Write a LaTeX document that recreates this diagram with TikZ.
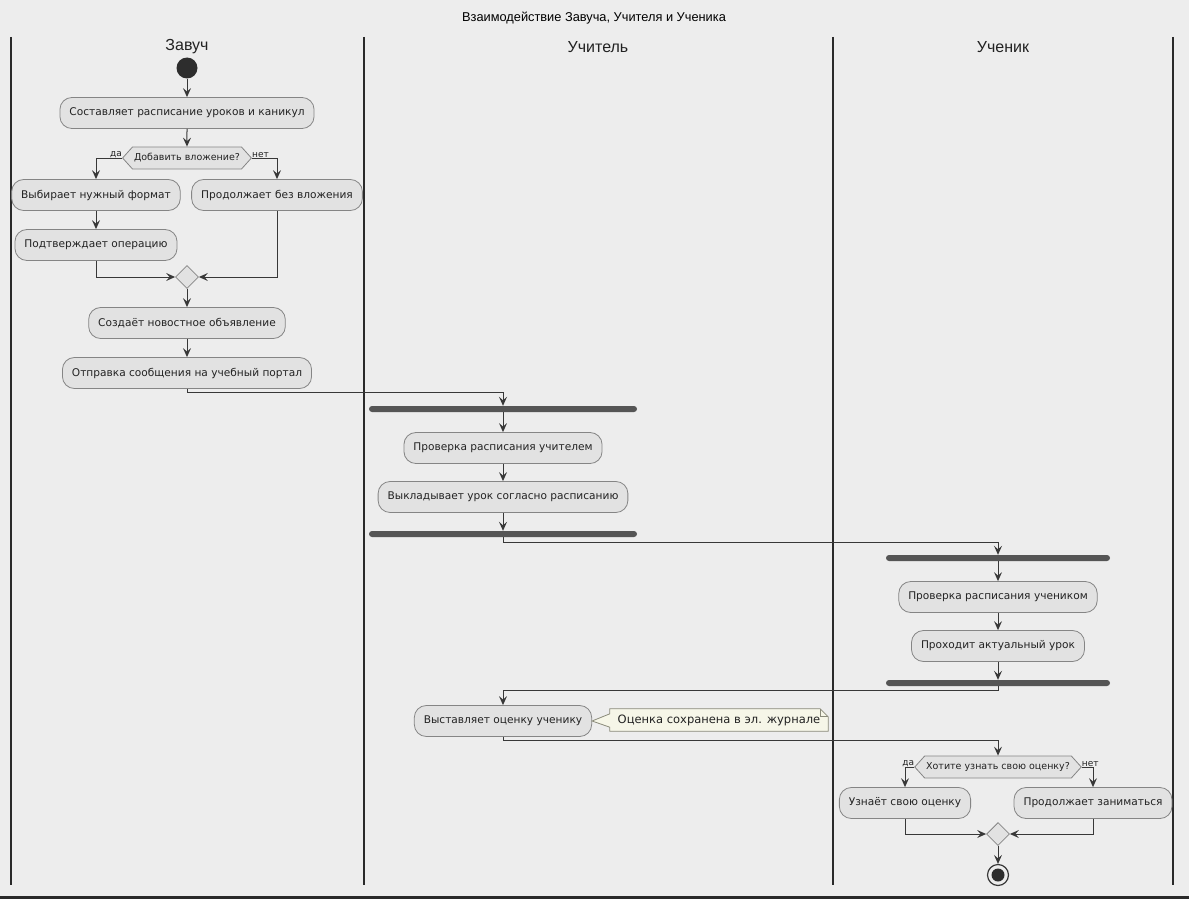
\documentclass[tikz,border=0pt]{standalone}
\usepackage{fontspec}
\newfontfamily\dv{DejaVu Sans}
\newfontfamily\ls{Liberation Sans}
\usetikzlibrary{arrows.meta,shapes.geometric,shapes.symbols,calc}
\definecolor{bg}{HTML}{EDEDED}
\definecolor{boxfill}{HTML}{E2E2E2}
\definecolor{boxline}{HTML}{858585}
\definecolor{edge}{HTML}{383838}
\definecolor{barc}{HTML}{555555}
\definecolor{lane}{HTML}{2A2A2A}
\definecolor{notefill}{HTML}{F6F6E8}
\definecolor{noteline}{HTML}{8A8A7A}
\definecolor{txt}{HTML}{222222}
\tikzset{
  act/.style={draw=boxline, fill=boxfill, rounded corners=12pt, minimum height=31pt, inner xsep=9.5pt, font=\dv\fontsize{10.6}{12}\selectfont, text=txt, line width=0.8pt},
  hexa/.style={shape=signal, signal to=west and east, signal pointer angle=96, draw=boxline, fill=boxfill, minimum height=22pt, inner xsep=1.5pt, inner ysep=1pt, font=\dv\fontsize{9.5}{11}\selectfont, text=txt, line width=0.8pt},
  merge/.style={shape=diamond, draw=boxline, fill=boxfill, minimum width=23pt, minimum height=23pt, inner sep=0pt, line width=0.8pt},
  bar/.style={fill=barc, rounded corners=3pt, minimum height=6pt, inner sep=0pt},
  arr/.style={-{Stealth[length=9pt,width=8pt,inset=3.5pt]}, line width=1pt, draw=edge},
  lbl/.style={font=\dv\fontsize{9}{10}\selectfont, text=txt, inner sep=0pt},
  hdr/.style={font=\ls\fontsize{16}{18}\selectfont, text=txt},
}
\begin{document}
\begin{tikzpicture}[x=1pt,y=-1pt]
\useasboundingbox (0,0) rectangle (1189,899);
\fill[bg] (0,0) rectangle (1189,899);
\fill[lane] (0,896) rectangle (1189,899);
% title
\node[font=\ls\fontsize{12.8}{14}\selectfont, text=black] (title) at (594,18) {Взаимодействие Завуча, Учителя и Ученика};
% lanes
\foreach \x/\n in {11/l0,364/l1,833/l2,1173/l3}{
  \coordinate (\n t) at (\x,37);
  \coordinate (\n b) at (\x,885);
  \draw[lane, line width=1.5pt] (\n t) -- (\n b);
}
\node[hdr] (h1) at (187,47) {Завуч};
\node[hdr] (h2) at (598,47) {Учитель};
\node[hdr] (h3) at (1003,47) {Ученик};

% Zavuch
\node[circle, fill=edge!80!black, minimum size=21pt, inner sep=0pt] (start) at (187,68) {};
\node[act] (a1) at (187,113) {Составляет расписание уроков и каникул};
\node[hexa] (d1) at (187,158) {Добавить вложение?};
\node[act] (a2) at (96,195) {Выбирает нужный формат};
\node[act] (a3) at (277,195) {Продолжает без вложения};
\node[act] (a4) at (96,245) {Подтверждает операцию};
\node[merge] (m1) at (187,277) {};
\node[act] (a5) at (187,323) {Создаёт новостное объявление};
\node[act] (a6) at (187,373) {Отправка сообщения на учебный портал};
\node[lbl, anchor=south east] (yes1) at (d1.west) {да};
\node[lbl, anchor=south west] (no1) at (d1.east) {нет};

% Teacher
\node[bar, minimum width=268pt] (f1) at (503,409) {};
\node[act] (b1) at (503,448) {Проверка расписания учителем};
\node[act] (b2) at (503,497) {Выкладывает урок согласно расписанию};
\node[bar, minimum width=268pt] (j1) at (503,534) {};
\node[act] (b3) at (503,721) {Выставляет оценку ученику};
\node[font=\dv\fontsize{11.5}{13}\selectfont, text=txt, minimum width=218pt, minimum height=22pt, inner sep=0pt] (n1) at (719,720) {Оценка сохранена в эл. журнале};

% Student
\node[bar, minimum width=224pt] (f2) at (998,558) {};
\node[act] (c1) at (998,597) {Проверка расписания учеником};
\node[act] (c2) at (998,646) {Проходит актуальный урок};
\node[bar, minimum width=224pt] (j2) at (998,683) {};
\node[hexa] (d2) at (998,767) {Хотите узнать свою оценку?};
\node[act] (c3) at (905,803) {Узнаёт свою оценку};
\node[act] (c4) at (1093,803) {Продолжает заниматься};
\node[merge] (m2) at (998,834) {};
\node[circle, draw=edge, line width=1.2pt, fill=bg, minimum size=21pt, inner sep=0pt] (end) at (998,875) {};
\node[circle, fill=edge!80!black, minimum size=13pt, inner sep=0pt] (endin) at (998,875) {};
\node[lbl, anchor=south east] (yes2) at (d2.west) {да};
\node[lbl, anchor=south west] (no2) at (d2.east) {нет};

% note shape
\draw[fill=notefill, draw=noteline, line width=0.8pt]
  (n1.north west) -- ($(n1.north east)+(-8,0)$) -- ($(n1.north east)+(0,8)$) -- (n1.south east) -- (n1.south west)
  -- ($(n1.south west)+(0,-4)$) -- (b3.east) -- ($(n1.north west)+(0,5)$) -- cycle;
\draw[draw=noteline, line width=0.8pt] ($(n1.north east)+(-8,0)$) -- ($(n1.north east)+(-8,8)$) -- ($(n1.north east)+(0,8)$);
\node[font=\dv\fontsize{11.5}{13}\selectfont, text=txt] at (n1) {Оценка сохранена в эл. журнале};

% edges
\draw[arr] (start) -- (a1);
\draw[arr] (a1) -- (d1);
\draw[arr] (d1.west) -| (a2.north);
\draw[arr] (d1.east) -| (a3.north);
\draw[arr] (a2) -- (a4);
\draw[arr] (a4.south) |- (m1.west);
\draw[arr] (a3.south) |- (m1.east);
\draw[arr] (m1) -- (a5);
\draw[arr] (a5) -- (a6);
\draw[arr] (a6.south) -- ++(0,4) -| (f1.north);
\draw[arr] (f1.south) -- (b1.north);
\draw[arr] (b1) -- (b2);
\draw[arr] (b2.south) -- (j1.north);
\draw[arr] (j1.south) -- ++(0,5) -| (f2.north);
\draw[arr] (f2.south) -- (c1.north);
\draw[arr] (c1) -- (c2);
\draw[arr] (c2.south) -- (j2.north);
\draw[arr] (j2.south) -- ++(0,4) -| (b3.north);
\draw[arr] (b3.south) -- ++(0,4) -| (d2.north);
\draw[arr] (d2.west) -| (c3.north);
\draw[arr] (d2.east) -| (c4.north);
\draw[arr] (c3.south) |- (m2.west);
\draw[arr] (c4.south) |- (m2.east);
\draw[arr] (m2) -- (end);
\end{tikzpicture}
\end{document}
